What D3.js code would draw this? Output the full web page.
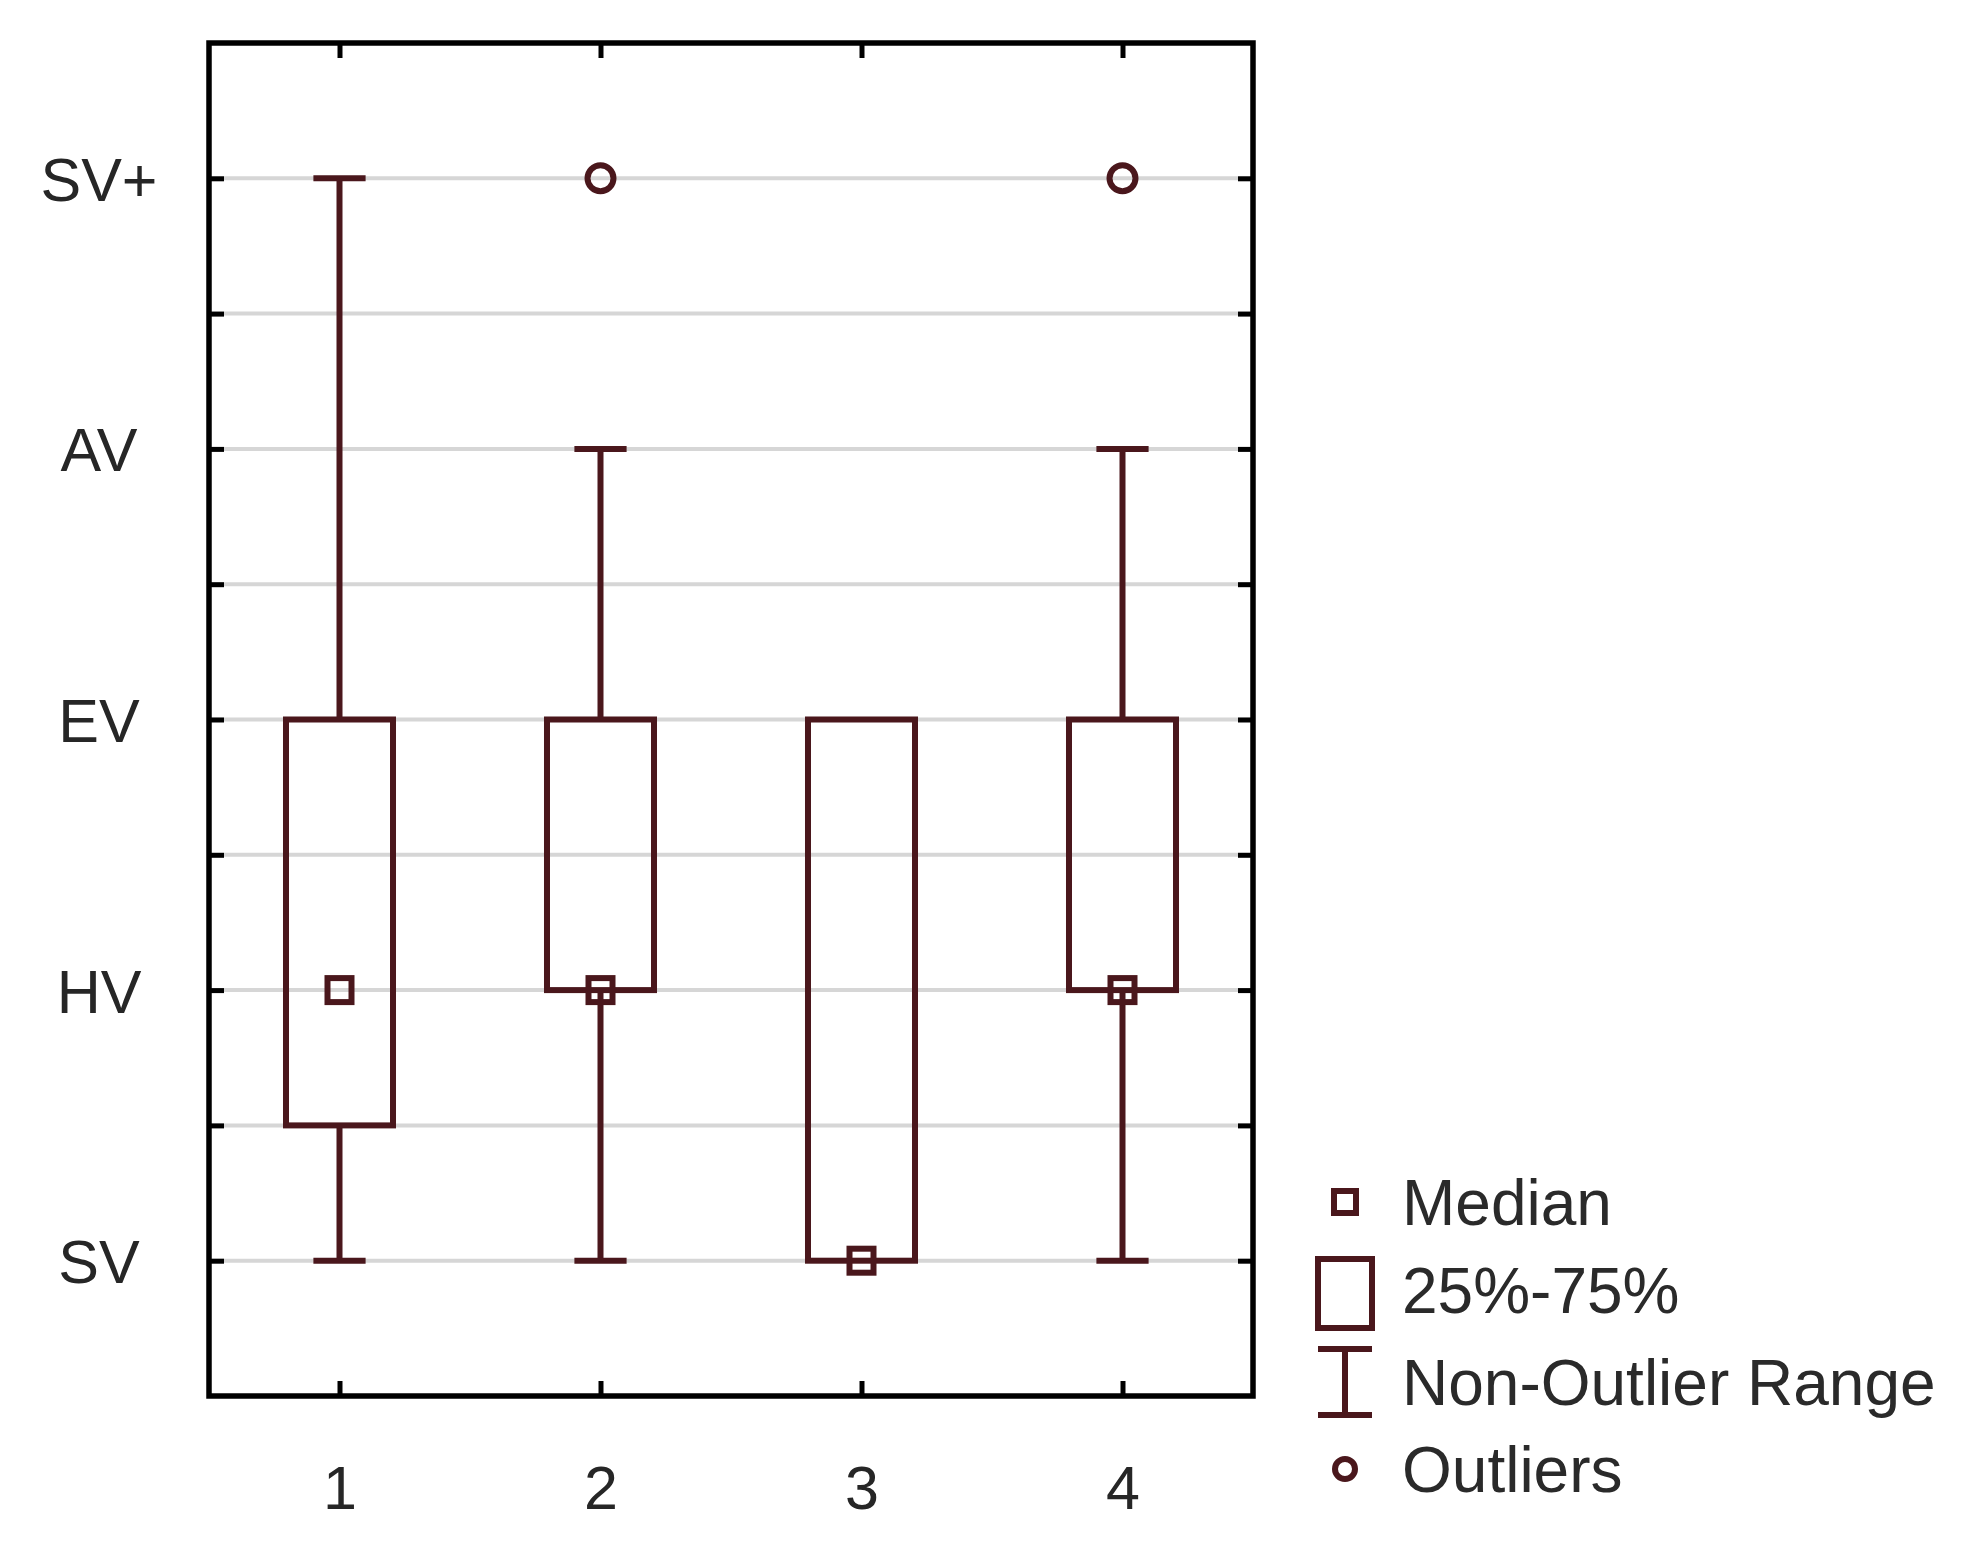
<!DOCTYPE html>
<html>
<head>
<meta charset="utf-8">
<script src="https://cdn.jsdelivr.net/npm/d3@7"></script>
<style>
html,body{margin:0;padding:0;background:#fff;}
svg{display:block;}
text{font-family:"Liberation Sans",Arial,sans-serif;}
</style>
</head>
<body>
<svg id="chart" width="1986" height="1553"></svg>
<script>
// ---- data ----
const categories = [1, 2, 3, 4];
const levelLabels = ["SV", "HV", "EV", "AV", "SV+"];   // values 0..4
const whiskerLow  = [0, 0, null, 0];
const whiskerHigh = [4, 3, null, 3];
const q1          = [0.5, 1, 0, 1];
const q3          = [2, 2, 2, 2];
const medians     = [1, 1, 0, 1];
const outliers    = [[], [4], [], [4]];
const legendItems = ["Median", "25%-75%", "Non-Outlier Range", "Outliers"];

// ---- layout ----
const L = 209, R = 1253, T = 43, B = 1396;
const col = "#4a171c";
const sw = 6;

const svg = d3.select("#chart");
const x = d3.scaleLinear().domain([0.5, 4.5]).range([L, R]);
const y = d3.scaleLinear().domain([-0.5, 4.5]).range([B, T]);

const halfTicks = d3.range(0, 4.01, 0.5);

// gridlines
svg.append("g").selectAll("line").data(halfTicks).join("line")
  .attr("x1", L).attr("x2", R)
  .attr("y1", d => y(d)).attr("y2", d => y(d))
  .attr("stroke", "#d6d6d6").attr("stroke-width", 4);

// left axis (inward ticks, labels)
const yAxisL = svg.append("g").attr("transform", `translate(${L},0)`)
  .call(d3.axisLeft(y).tickValues(halfTicks).tickSize(-15).tickPadding(0)
    .tickFormat(d => Number.isInteger(d) ? levelLabels[d] : ""));
yAxisL.select(".domain").remove();
yAxisL.selectAll(".tick line").attr("stroke", "#000").attr("stroke-width", 5);
yAxisL.selectAll(".tick text")
  .attr("x", 99 - L).attr("text-anchor", "middle").attr("dy", "0.36em")
  .style("font-size", "61px").attr("fill", "#262626");

// right axis inward ticks
const yAxisR = svg.append("g").attr("transform", `translate(${R},0)`)
  .call(d3.axisRight(y).tickValues(halfTicks).tickSize(-15).tickFormat(""));
yAxisR.select(".domain").remove();
yAxisR.selectAll(".tick line").attr("stroke", "#000").attr("stroke-width", 5);

// bottom axis
const xAxisB = svg.append("g").attr("transform", `translate(0,${B})`)
  .call(d3.axisBottom(x).tickValues(categories).tickSize(-15).tickPadding(0).tickFormat(d3.format("d")));
xAxisB.select(".domain").remove();
xAxisB.selectAll(".tick line").attr("stroke", "#000").attr("stroke-width", 5);
xAxisB.selectAll(".tick text").attr("y", 1509 - B).attr("dy", 0)
  .style("font-size", "61px").attr("fill", "#262626");

// top axis ticks
const xAxisT = svg.append("g").attr("transform", `translate(0,${T})`)
  .call(d3.axisTop(x).tickValues(categories).tickSize(-15).tickFormat(""));
xAxisT.select(".domain").remove();
xAxisT.selectAll(".tick line").attr("stroke", "#000").attr("stroke-width", 5);

// frame
svg.append("rect").attr("x", L).attr("y", T).attr("width", R - L).attr("height", B - T)
  .attr("fill", "none").attr("stroke", "#000").attr("stroke-width", 5.5);

// ---- boxes ----
const boxHalf = 0.205, capHalf = 0.1;
const data = categories.map((c, i) => ({
  c, lo: whiskerLow[i], hi: whiskerHigh[i], q1: q1[i], q3: q3[i], med: medians[i], out: outliers[i]
}));

const g = svg.append("g");
data.forEach(d => {
  if (d.hi != null && d.hi > d.q3) {
    g.append("line").attr("x1", x(d.c)).attr("x2", x(d.c)).attr("y1", y(d.q3)).attr("y2", y(d.hi))
      .attr("stroke", col).attr("stroke-width", sw);
    g.append("line").attr("x1", x(d.c - capHalf)).attr("x2", x(d.c + capHalf)).attr("y1", y(d.hi)).attr("y2", y(d.hi))
      .attr("stroke", col).attr("stroke-width", sw);
  }
  if (d.lo != null && d.lo < d.q1) {
    g.append("line").attr("x1", x(d.c)).attr("x2", x(d.c)).attr("y1", y(d.q1)).attr("y2", y(d.lo))
      .attr("stroke", col).attr("stroke-width", sw);
    g.append("line").attr("x1", x(d.c - capHalf)).attr("x2", x(d.c + capHalf)).attr("y1", y(d.lo)).attr("y2", y(d.lo))
      .attr("stroke", col).attr("stroke-width", sw);
  }
  g.append("rect").attr("x", x(d.c - boxHalf)).attr("y", y(d.q3))
    .attr("width", x(d.c + boxHalf) - x(d.c - boxHalf)).attr("height", y(d.q1) - y(d.q3))
    .attr("fill", "none").attr("stroke", col).attr("stroke-width", sw);
  g.append("rect").attr("x", x(d.c) - 12).attr("y", y(d.med) - 12).attr("width", 24).attr("height", 24)
    .attr("fill", "none").attr("stroke", col).attr("stroke-width", sw);
  d.out.forEach(o => {
    g.append("circle").attr("cx", x(d.c)).attr("cy", y(o)).attr("r", 13)
      .attr("fill", "none").attr("stroke", col).attr("stroke-width", sw);
  });
});

// ---- legend ----
const lg = svg.append("g");
const mx = 1345, tx = 1402;
const rowY = [1202, 1290, 1382, 1469];
// median
lg.append("rect").attr("x", mx - 11).attr("y", rowY[0] - 11).attr("width", 22).attr("height", 22)
  .attr("fill", "none").attr("stroke", col).attr("stroke-width", sw);
// box
lg.append("rect").attr("x", mx - 27).attr("y", 1259).attr("width", 54).attr("height", 69)
  .attr("fill", "none").attr("stroke", col).attr("stroke-width", sw);
// whisker
lg.append("line").attr("x1", mx - 27).attr("x2", mx + 27).attr("y1", 1349).attr("y2", 1349).attr("stroke", col).attr("stroke-width", sw);
lg.append("line").attr("x1", mx).attr("x2", mx).attr("y1", 1349).attr("y2", 1415).attr("stroke", col).attr("stroke-width", sw);
lg.append("line").attr("x1", mx - 27).attr("x2", mx + 27).attr("y1", 1415).attr("y2", 1415).attr("stroke", col).attr("stroke-width", sw);
// outlier
lg.append("circle").attr("cx", mx).attr("cy", rowY[3]).attr("r", 10)
  .attr("fill", "none").attr("stroke", col).attr("stroke-width", sw);

lg.selectAll("text").data(legendItems).join("text")
  .attr("x", tx).attr("y", (d, i) => rowY[i]).attr("dy", "0.36em")
  .style("font-size", "64px").attr("fill", "#2a2a2a").text(d => d);
</script>
</body>
</html>
